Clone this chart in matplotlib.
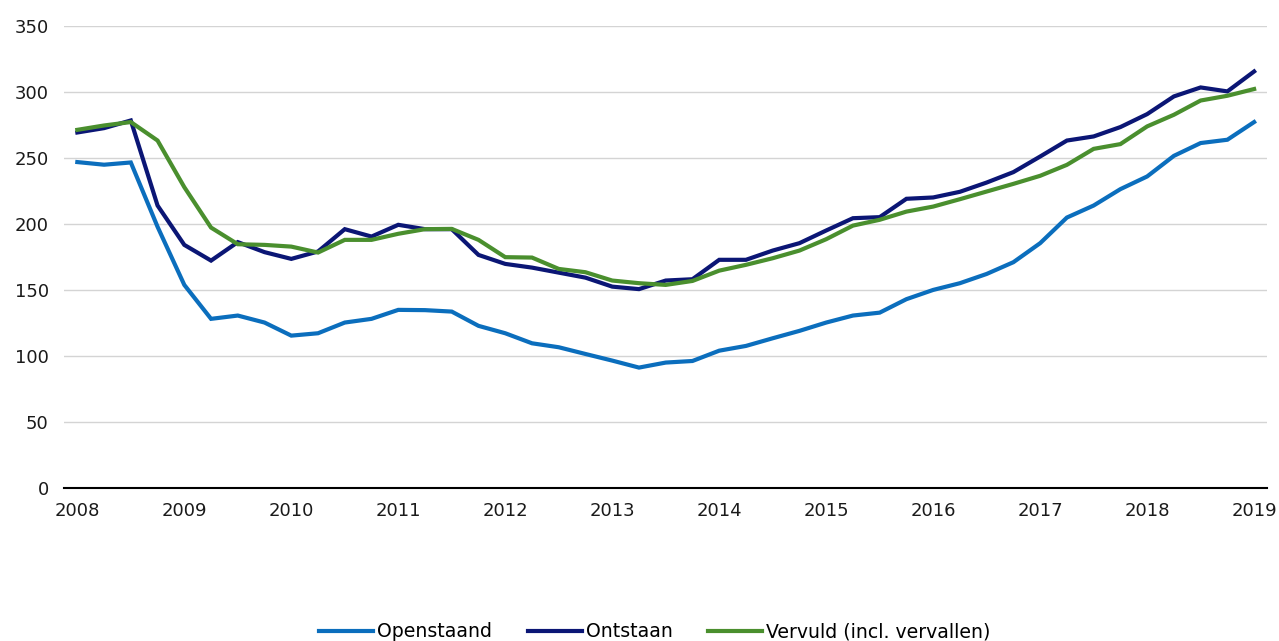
import numpy as np
import matplotlib
matplotlib.use("Agg")
from matplotlib import pyplot as plt

# quarterly values, 2008 Q1 .. 2019 Q1
years = [str(y) for y in range(2008, 2020)]
openstaand = [247, 245, 246.7, 198, 154, 128.3, 130.8, 125.5, 115.6, 117.4,
              125.5, 128.3, 135.1, 134.9, 133.8, 123, 117.4, 109.8, 106.8, 101.7,
              96.7, 91.4, 95.2, 96.4, 104.2, 107.8, 113.6, 119.2, 125.5, 130.8,
              133, 143.2, 150.2, 155.3, 162.3, 171.2, 185.6, 205, 214.1, 226.5,
              236.1, 251.7, 261.4, 263.9, 277.3]
ontstaan = [269.4, 272.7, 278.5, 214.1, 184.3, 172.4, 186.4, 178.8, 173.7, 179.3,
            196.2, 190.6, 199.5, 196.2, 196.2, 176.7, 169.9, 167.1, 163.3, 159.5,
            152.7, 150.8, 157.3, 158.3, 173, 173, 180, 185.6, 195.2, 204.5,
            205.3, 219.2, 220.2, 224.5, 231.5, 239.4, 251.2, 263.3, 266.4, 273.5,
            283.3, 296.7, 303.5, 300.5, 315.6]
vervuld = [271.4, 274.7, 277.3, 263.3, 228, 197.4, 184.8, 184.3, 183, 178.5,
           188.1, 188.1, 192.7, 196.2, 196.4, 188.1, 175, 174.7, 166.1, 163.6,
           157.3, 155.3, 154, 157, 164.8, 169.2, 174.2, 180, 188.6, 198.9,
           203.3, 209.5, 213.3, 218.9, 224.7, 230.5, 236.6, 244.9, 257, 260.6,
           274, 282.8, 293.6, 297.2, 302.3]

series = [("Openstaand", openstaand, "#0b6ebd"),
          ("Ontstaan", ontstaan, "#0b1675"),
          ("Vervuld (incl. vervallen)", vervuld, "#4a8f2e")]

plt.rcParams['font.family'] = ['DejaVu Sans']
fig = plt.figure(figsize=(12.79, 6.41), dpi=100)
ax = fig.add_axes([0.05, 0.2382, 0.941, 0.7212])

x = np.arange(len(openstaand))
for name, vals, col in series:
    ax.plot(x, vals, color=col, lw=3, label=name, solid_joinstyle='miter')

ax.set_xlim(-0.5, len(x) - 0.5)
ax.set_ylim(0, 350)
ax.set_yticks(range(0, 351, 50))
ax.set_xticks(np.arange(0, len(x), 4))
ax.set_xticklabels(years)
ax.tick_params(axis='both', length=0, labelsize=13, colors='#1a1a1a')
ax.tick_params(axis='y', pad=11)
ax.tick_params(axis='x', pad=10)
ax.grid(axis='y', color='#d4d4d4', lw=1)
ax.set_axisbelow(True)
for s in ['left', 'right', 'top']:
    ax.spines[s].set_visible(False)
ax.spines['bottom'].set_color('black')
ax.spines['bottom'].set_linewidth(1.5)

fig.legend(loc='lower center', bbox_to_anchor=(0.512, -0.027), ncol=3, frameon=False,
           fontsize=13.6, handlelength=2.85, handletextpad=0.2, columnspacing=1.9)

fig.savefig("out.png", dpi=100)
